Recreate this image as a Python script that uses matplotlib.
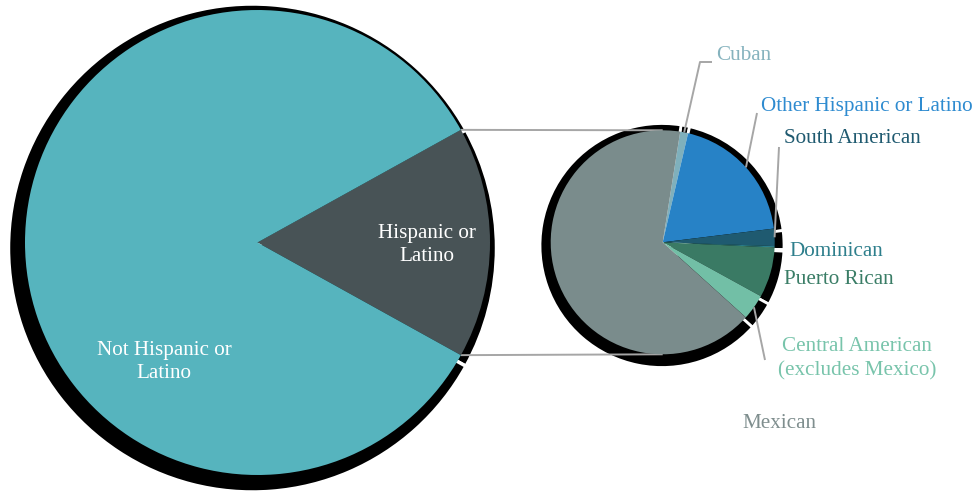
import numpy as np
import matplotlib
matplotlib.use("Agg")
import matplotlib.pyplot as plt

# ---- data ----
main_labels = ["Hispanic or\nLatino", "Not Hispanic or\nLatino"]
main_values = [16.1, 83.9]
main_colors = ["#485356", "#56B4BE"]

sub_labels = ["Cuban", "Other Hispanic or Latino", "South American", "Dominican",
              "Puerto Rican", "Central American\n(excludes Mexico)", "Mexican"]
sub_values = [1.14, 19.4, 2.5, 0.2, 7.25, 3.7, 65.8]
sub_colors = ["#7FB0BC", "#2782C6", "#1F5A70", "#2A7E8A", "#3A7A64", "#72BFA6", "#7A8C8C"]
sub_text_colors = ["#86B3BE", "#2E8BD0", "#1F5A70", "#2E7F8C", "#3A7D66", "#78C4AB", "#7F8E8E"]

H = 491
plt.rcParams['font.family'] = ['Liberation Serif', 'DejaVu Serif']
fig = plt.figure(figsize=(9.77, 4.91), dpi=100)
ax = fig.add_axes([0, 0, 1, 1])
ax.set_xlim(0, 977)
ax.set_ylim(0, H)
ax.set_aspect('equal')
ax.axis('off')

# big pie
bc = (257.5, H - 242.5); br = 232.5
start_big = -main_values[0] / sum(main_values) * 360 / 2
ax.pie(main_values, colors=['black'] * 2, startangle=start_big, center=(252.5, H - 248),
       radius=244, wedgeprops=dict(edgecolor='white', linewidth=2.5, zorder=1),
       frame=True)
wb, _ = ax.pie(main_values, colors=main_colors, startangle=start_big, center=bc, radius=br,
               wedgeprops=dict(linewidth=0, zorder=3), frame=True)

# small pie
sc = (662.7, H - 242.3); sr = 112
start_small = 81.0
ax.pie(sub_values, colors=['black'] * len(sub_values), startangle=start_small, counterclock=False,
       center=(662, H - 245.5), radius=122,
       wedgeprops=dict(edgecolor='white', linewidth=2.0, zorder=1), frame=True)
ws, _ = ax.pie(sub_values, colors=sub_colors, startangle=start_small, counterclock=False,
               center=sc, radius=sr, wedgeprops=dict(edgecolor='none', linewidth=0, zorder=3),
               frame=True)
ax.set_xlim(0, 977)
ax.set_ylim(0, H)
ax.axis('off')

line_kw = dict(color='#A6A6A6', lw=1.4, solid_capstyle='butt')

# connection lines from Hispanic wedge edges to small pie top/bottom
w = wb[0]
for ang, ty in [(w.theta2, sc[1] + sr), (w.theta1, sc[1] - sr)]:
    x0 = bc[0] + br * np.cos(np.radians(ang))
    y0 = bc[1] + br * np.sin(np.radians(ang))
    ax.plot([x0, sc[0]], [y0, ty], zorder=2, **line_kw)

# labels in big pie
ax.text(427, H - 245, main_labels[0], color='white', fontsize=15.2, ha='center', va='center',
        linespacing=1.35, zorder=5)
ax.text(164, H - 362, main_labels[1], color='white', fontsize=15.2, ha='center', va='center',
        linespacing=1.35, zorder=5)

def rim(i):
    wd = ws[i]
    a = np.radians((wd.theta1 + wd.theta2) / 2)
    return sc[0] + sr * np.cos(a), sc[1] + sr * np.sin(a)

# leader lines
x0, y0 = rim(0)
ax.plot([x0, 700, 712], [y0, H - 62, H - 62], zorder=4, **line_kw)
x0, y0 = rim(1)
ax.plot([x0, 757], [y0, H - 113], zorder=4, **line_kw)
x0, y0 = rim(2)
ax.plot([x0, 779], [y0, H - 147], zorder=4, **line_kw)
x0, y0 = rim(5)
ax.plot([x0, 765], [y0, H - 360], zorder=4, **line_kw)

# sub labels
pos = [(716, 55, 'left'), (761, 106, 'left'), (784, 138, 'left'), (789, 252, 'left'),
       (784, 280, 'left'), (857, 359, 'center'), (779, 423, 'center')]
for lab, col, (x, y, ha) in zip(sub_labels, sub_text_colors, pos):
    ax.text(x, H - y, lab, color=col, fontsize=15.2, ha=ha, va='center', linespacing=1.4,
            zorder=5)

fig.savefig("out.png", dpi=100)
